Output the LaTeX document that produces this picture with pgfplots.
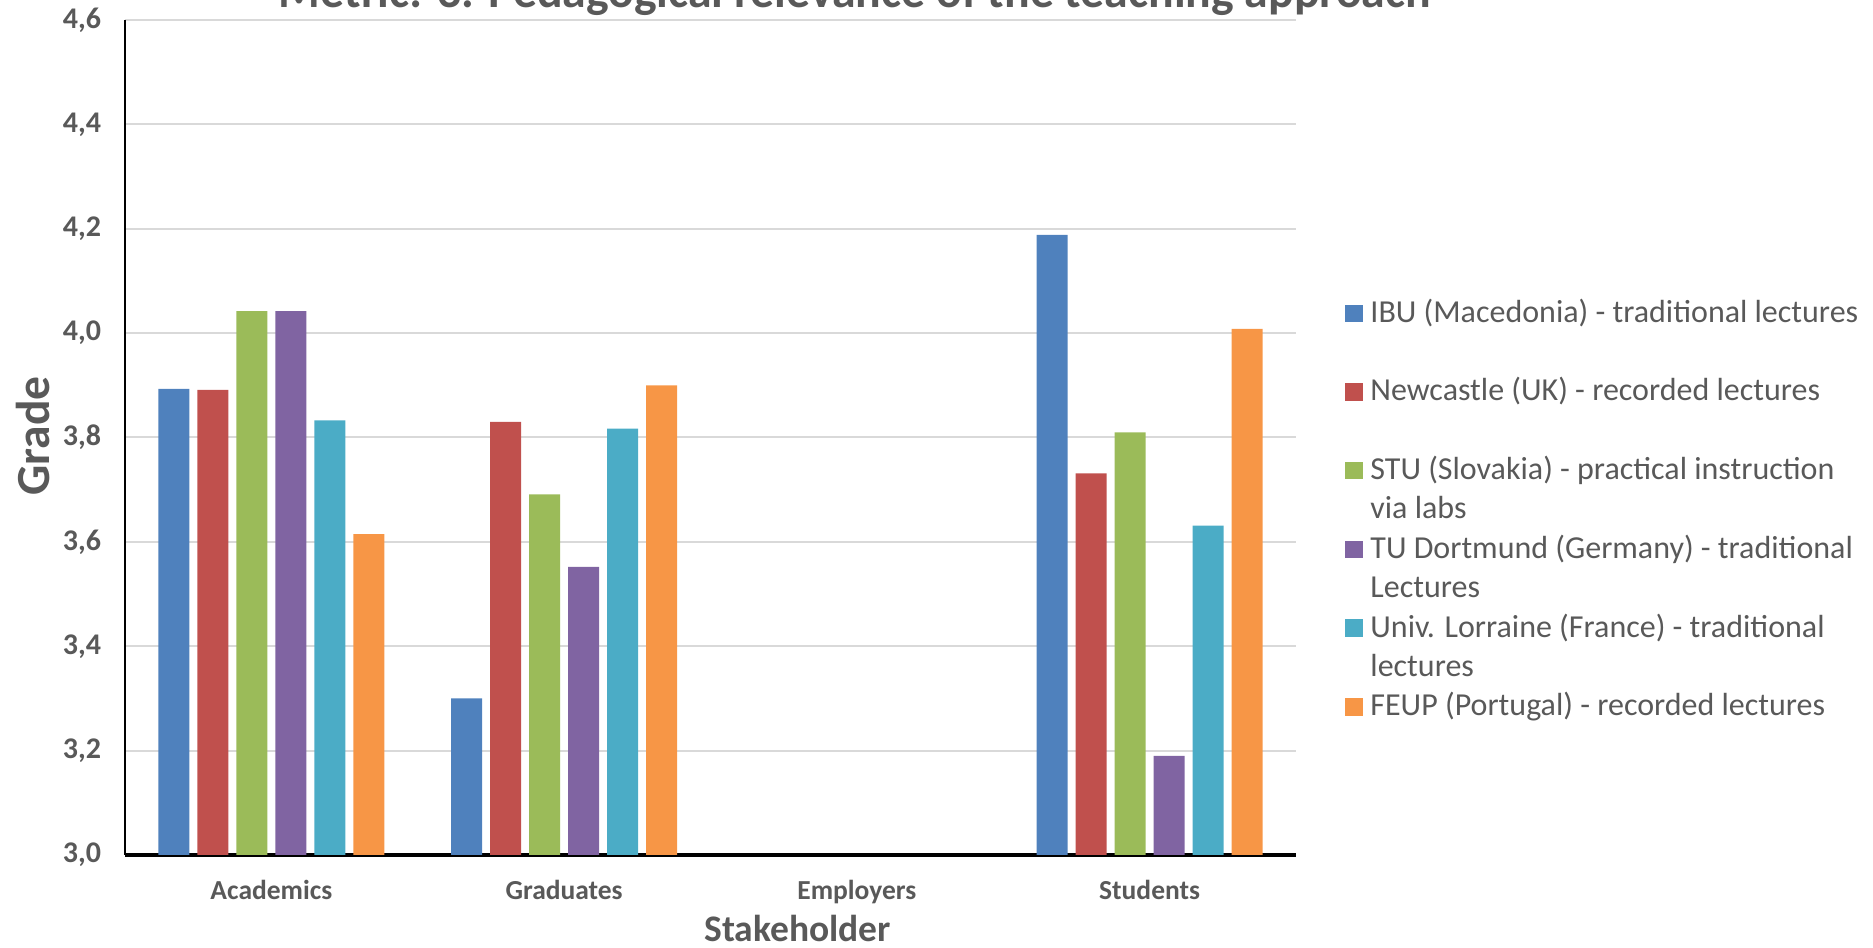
\documentclass[border=0pt]{standalone}
\usepackage{pgfplots}
\pgfplotsset{compat=1.18}
\usepackage{fontspec}
\setmainfont{Carlito}
\definecolor{c1}{HTML}{4F81BD}
\definecolor{c2}{HTML}{C0504D}
\definecolor{c3}{HTML}{9BBB59}
\definecolor{c4}{HTML}{8064A2}
\definecolor{c5}{HTML}{4BACC6}
\definecolor{c6}{HTML}{F79646}
\definecolor{tgrey}{HTML}{595959}
\definecolor{ggrey}{HTML}{D9D9D9}
\newcommand\lgd[2]{\parbox[t]{210pt}{\fontsize{12.8}{15.6}\selectfont\strut #1\\\strut #2}}
\begin{document}
\begin{tikzpicture}
\path[use as bounding box] (0pt,0pt) rectangle (749.2pt,379.2pt);
\begin{axis}[
  at={(50pt,37.2pt)}, anchor=south west,
  scale only axis, width=468.4pt, height=334pt,
  ybar=3.2pt, bar width=12.4pt,
  xmin=-0.5, xmax=3.5, ymin=3, ymax=4.6,
  xtick={0,1,2,3}, xticklabels={Academics,Graduates,Employers,Students},
  ytick={3,3.2,...,4.6},
  axis x line*=bottom, axis y line*=left,
  x axis line style={line width=1.4pt, black, -},
  y axis line style={line width=0.7pt, black, -},
  major tick length=0pt,
  ymajorgrids, grid style={ggrey, line width=0.8pt},
  yticklabel style={/pgf/number format/fixed, /pgf/number format/fixed zerofill, /pgf/number format/precision=1, /pgf/number format/use comma, /pgf/number format/assume math mode=true},
  yticklabel style={font=\fontsize{12}{14}\selectfont\bfseries, text=tgrey, anchor=east, inner sep=0pt, xshift=-9.4pt},
  xticklabel style={font=\fontsize{11}{13}\selectfont\bfseries, text=tgrey, anchor=base, inner sep=0pt, yshift=-17.8pt},
  title={Metric: 3. Pedagogical relevance of the teaching approach},
  every axis title/.style={at={(axis description cs:0.6234,1.0152)}, anchor=base, font=\fontsize{19.1}{22}\selectfont\bfseries, text=tgrey},
  xlabel={Stakeholder},
  every axis x label/.style={at={(axis description cs:0.5745,-0.1036)}, anchor=base, font=\fontsize{15}{18}\selectfont\bfseries, text=tgrey},
  ylabel={Grade},
  every axis y label/.style={at={(axis description cs:-0.0648,0.502)}, rotate=90, anchor=base, font=\fontsize{19}{22}\selectfont\bfseries, text=tgrey},
  legend style={draw=none, fill=none, at={(axis description cs:1.0418,0.6713)}, anchor=north west,
    inner sep=0pt, row sep=19.07pt, text=tgrey, nodes={inner sep=0pt}, cells={anchor=base west},
    /tikz/every odd column/.append style={column sep=3pt}},
  legend image code/.code={\fill[#1] (0pt,0.1pt) rectangle (7pt,7.1pt);},
]
\addplot[fill=c1, draw=none] coordinates {(0,3.893) (1,3.300) (3,4.188)};
\addplot[fill=c2, draw=none] coordinates {(0,3.891) (1,3.830) (3,3.731)};
\addplot[fill=c3, draw=none] coordinates {(0,4.042) (1,3.691) (3,3.810)};
\addplot[fill=c4, draw=none] coordinates {(0,4.042) (1,3.552) (3,3.190)};
\addplot[fill=c5, draw=none] coordinates {(0,3.833) (1,3.817) (3,3.631)};
\addplot[fill=c6, draw=none] coordinates {(0,3.615) (1,3.900) (3,4.008)};
\addlegendentry{\lgd{IBU (Macedonia) - traditional lectures}{}}
\addlegendentry{\lgd{Newcastle (UK) - recorded lectures}{}}
\addlegendentry{\lgd{STU (Slovakia) - practical instruction}{via labs}}
\addlegendentry{\lgd{TU Dortmund (Germany) - traditional}{Lectures}}
\addlegendentry{\lgd{Univ. Lorraine (France) - traditional}{lectures}}
\addlegendentry{\lgd{FEUP (Portugal) - recorded lectures}{}}
\end{axis}
\end{tikzpicture}
\end{document}
